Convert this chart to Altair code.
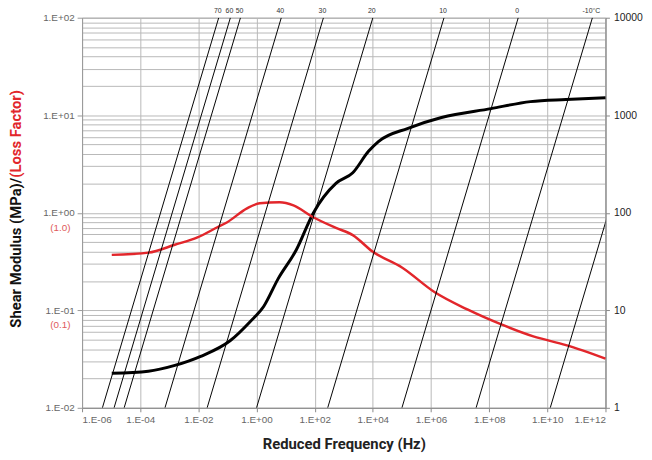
import json
import altair as alt
import pandas as pd

# ---- data ----
# Shear modulus (MPa) vs reduced frequency (Hz)
g_freq = [1.05e-5, 1.9e-4, 1.55e-3, 1.2e-2, 0.126, 0.59, 1.78, 5.5, 23.4, 89,
          537, 2040, 7080, 1.55e4, 1.62e5, 2.29e6, 1.15e8, 2.63e9, 4.37e10, 1.0e12]
g_mod = [0.0226, 0.0237, 0.0272, 0.0337, 0.049, 0.076, 0.110, 0.21, 0.417, 0.99,
         2.0, 2.57, 4.27, 5.37, 7.35, 9.48, 11.7, 13.8, 14.5, 15.1]

# Loss factor vs reduced frequency (Hz)
lf_freq = [1.05e-5, 1.9e-4, 1.55e-3, 9.3e-3, 4.5e-2, 0.098, 0.47, 1.29, 6.2, 18.6,
           89, 537, 2040, 9770, 1.0e5, 1.35e6, 1.78e7, 2.5e8, 3.3e9, 4.4e10, 1.0e12]
lf_val = [0.37, 0.39, 0.47, 0.56, 0.71, 0.80, 1.11, 1.25, 1.28, 1.19,
          0.90, 0.70, 0.59, 0.40, 0.275, 0.153, 0.102, 0.072, 0.054, 0.044, 0.032]

# Isotherms: temperature label and reduced frequency at a frequency of 1 Hz
iso_labels = ["70", "60", "50", "40", "30", "20", "10", "0", "-10°C", ""]
iso_fr_at_1hz = [5.0e-6, 1.26e-5, 2.8e-5, 7.1e-4, 2.0e-2, 1.0, 2.8e2, 1.0e5, 3.55e7, 1.26e10]
iso_hz_range = [1, 10000]

# Axis ticks / labels
x_ticks = [1e-6, 1e-4, 1e-2, 1e0, 1e2, 1e4, 1e6, 1e8, 1e10, 1e12]
x_tick_labels = ["1.E-06", "1.E-04", "1.E-02", "1.E+00", "1.E+02", "1.E+04",
                 "1.E+06", "1.E+08", "1.E+10", "1.E+12"]
y_decades = [0.01, 0.1, 1, 10, 100]
y_tick_labels = ["1.E-02", "1.E-01", "1.E+00", "1.E+01", "1.E+02"]
loss_ref_vals = [1.0, 0.1]
loss_ref_text = ["(1.0)", "(0.1)"]
hz_ticks = [1, 10, 100, 1000, 10000]

# ---- tables ----
g_df = pd.DataFrame({"freq": g_freq, "val": g_mod})
lf_df = pd.DataFrame({"freq": lf_freq, "val": lf_val})
iso_rows = []
for i, (lab, f1) in enumerate(zip(iso_labels, iso_fr_at_1hz)):
    for hz in iso_hz_range:
        iso_rows.append({"iso": i, "freq": f1 * hz, "hz": hz})
iso_df = pd.DataFrame(iso_rows)
iso_lab_df = pd.DataFrame({"label": iso_labels,
                           "freq": [f * iso_hz_range[1] for f in iso_fr_at_1hz]})
lref_df = pd.DataFrame({"val": loss_ref_vals, "text": loss_ref_text})

NARROW = "Liberation Sans Narrow, Roboto, Liberation Sans, sans-serif"
BASE = "Liberation Sans, Arial, sans-serif"
RED = "#e2262b"
GRID = "#b8b8b8"

LOGX = "log(datum.value)/LN10"
x_expr = f"{json.dumps(x_tick_labels)}[round(({LOGX}+6)/2)]"
LOGY = "log(datum.value)/LN10"
is_decade = f"abs({LOGY} - round({LOGY})) < 1e-6"
y_expr = f"{is_decade} ? {json.dumps(y_tick_labels)}[round({LOGY})+2] : ''"

minor_vals = [m * 10.0 ** k for k in range(-2, 2) for m in range(1, 10)] + [100.0]

x_scale = alt.Scale(type="log", domain=[1e-6, 1e12], nice=False)
x_axis = alt.Axis(values=x_ticks, labelExpr=x_expr, grid=True, gridColor=GRID,
                  gridWidth=1, tickSize=4, tickColor="#888", labelFontSize=10,
                  labelColor="#666", labelFont=BASE, labelPadding=3,
                  domainColor="#888", title="Reduced Frequency (Hz)",
                  titleFont=NARROW, titleFontSize=15, titleFontWeight="bold",
                  titleColor="#222", titlePadding=12)
y_scale = alt.Scale(type="log", domain=[0.01, 100], nice=False)
y_axis = alt.Axis(values=minor_vals, labelExpr=y_expr, grid=True, gridColor=GRID,
                  gridWidth=1, tickSize=5, tickColor="#999",
                  tickOpacity={"condition": {"test": is_decade, "value": 1}, "value": 0},
                  labelFontSize=10, labelColor="#666", labelFont=BASE,
                  labelPadding=3, domainColor="#999", title=None, orient="left")
hz_scale = alt.Scale(type="log", domain=[1, 10000], nice=False)
hz_axis = alt.Axis(values=hz_ticks, format="d", grid=False, orient="right",
                   tickSize=4, tickColor="#888", labelFontSize=10.5,
                   labelColor="#222", labelFont=BASE, labelPadding=4,
                   domainColor="#888", title=None)

xenc = alt.X("freq:Q", scale=x_scale, axis=x_axis)

black = alt.Chart(g_df).mark_line(color="black", strokeWidth=3,
                                  interpolate="monotone").encode(
    x=xenc, y=alt.Y("val:Q", scale=y_scale, axis=y_axis))
red = alt.Chart(lf_df).mark_line(color=RED, strokeWidth=2.5,
                                 interpolate="monotone").encode(
    x=xenc, y=alt.Y("val:Q", scale=y_scale, axis=y_axis))
lref = alt.Chart(lref_df).mark_text(color="#e05a5a", fontSize=10, font=BASE,
                                    align="center", dy=15).encode(
    x=alt.value(-22), y=alt.Y("val:Q", scale=y_scale, axis=y_axis), text="text:N")

left_group = alt.layer(black, red, lref)

iso = alt.Chart(iso_df).mark_line(color="black", strokeWidth=1, clip=True).encode(
    x=xenc, y=alt.Y("hz:Q", scale=hz_scale, axis=hz_axis), detail="iso:N")
iso_lab = alt.Chart(iso_lab_df).mark_text(fontSize=7, font=BASE, color="#333",
                                          align="center", dx=-1).encode(
    x=xenc, y=alt.value(-7), text="label:N")
right_group = alt.layer(iso, iso_lab)

ytitle_df = pd.DataFrame({"t": ["Shear Modulus (MPa)/"], "r": ["(Loss Factor)"]})
yt_black = alt.Chart(ytitle_df).mark_text(angle=270, align="right", baseline="middle",
                                          font=NARROW, fontSize=15, fontWeight="bold",
                                          color="#111").encode(
    x=alt.value(-67), y=alt.value(162), text="t:N")
yt_red = alt.Chart(ytitle_df).mark_text(angle=270, align="left", baseline="middle",
                                        font=NARROW, fontSize=15, fontWeight="bold",
                                        color=RED).encode(
    x=alt.value(-67), y=alt.value(162), text="r:N")

chart = alt.layer(left_group, right_group, yt_black, yt_red).resolve_scale(
    y="independent"
).properties(
    width=530, height=395,
    autosize=alt.AutoSizeParams(type="none"),
    padding={"left": 75, "top": 7, "right": 39, "bottom": 50},
).configure_view(stroke="#999", strokeWidth=1)

chart.save("out.html", embed_options={"renderer": "svg", "actions": False})
